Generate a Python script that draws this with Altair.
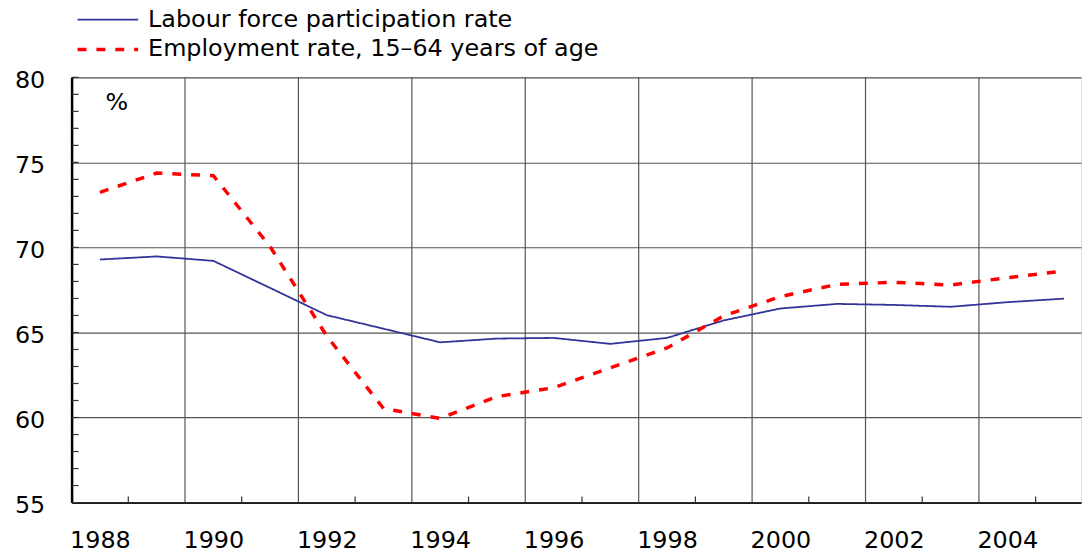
import altair as alt
import pandas as pd

years = list(range(1988, 2006))
labour = [69.29, 69.47, 69.21, 67.62, 66.02, 65.22, 64.42, 64.64, 64.68, 64.33,
          64.68, 65.71, 66.41, 66.68, 66.62, 66.51, 66.78, 66.99]
employment = [73.24, 74.37, 74.22, 70.05, 64.79, 60.53, 59.95, 61.23, 61.75, 62.92,
              64.09, 65.98, 67.11, 67.83, 67.95, 67.79, 68.22, 68.61]
series_names = ["Labour force participation rate", "Employment rate, 15\u201364 years of age"]
x_label_years = [1988, 1990, 1992, 1994, 1996, 1998, 2000, 2002, 2004]
x_grid_pos = [1989.5, 1991.5, 1993.5, 1995.5, 1997.5, 1999.5, 2001.5, 2003.5]
x_minor_pos = [1988.5, 1990.5, 1992.5, 1994.5, 1996.5, 1998.5, 2000.5, 2002.5, 2004.5]
y_major = [55, 60, 65, 70, 75, 80]
y_minor = list(range(55, 81))

FONT = "DejaVu Sans"
FS = 24
W, H = 1016, 428

df = pd.DataFrame({
    "year": years * 2,
    "value": labour + employment,
    "series": [series_names[0]] * len(years) + [series_names[1]] * len(years),
})

xscale = alt.Scale(domain=[1987.5, 2005.3], nice=False, zero=False)
yscale = alt.Scale(domain=[55, 80], nice=False, zero=False)

lines = alt.Chart(df).mark_line().encode(
    x=alt.X("year:Q", scale=xscale,
            axis=alt.Axis(values=x_label_years, format="d", grid=False, ticks=False,
                          domainColor="#000", domainWidth=1.5, labelFont=FONT,
                          labelFontSize=FS, labelColor="#000", labelPadding=26,
                          title=None, labelFlush=False)),
    y=alt.Y("value:Q", scale=yscale,
            axis=alt.Axis(values=y_major, grid=True, gridColor="#555", gridWidth=1.2,
                          ticks=False, domainColor="#000", domainWidth=2.5,
                          labelFont=FONT, labelFontSize=FS, labelColor="#000",
                          labelPadding=27, labelOffset=3, labelFlush=False,
                          title="%", titleAngle=0, titleX=45, titleY=25,
                          titleAlign="center", titleBaseline="middle",
                          titleFont=FONT, titleFontSize=FS, titleFontWeight="normal",
                          titleColor="#000")),
    color=alt.Color("series:N",
                    scale=alt.Scale(domain=series_names, range=["#333399", "#ff0000"]),
                    legend=alt.Legend(orient="none", legendX=4, legendY=-73, title=None,
                                      symbolType="stroke", symbolSize=3721,
                                      labelFont=FONT, labelFontSize=FS, labelColor="#000",
                                      labelOffset=8, padding=0, rowPadding=0,
                                      clipHeight=30, labelLimit=0, symbolStrokeWidth=2)),
    strokeDash=alt.StrokeDash("series:N",
                              scale=alt.Scale(domain=series_names, range=[[1, 0], [9, 10]]),
                              legend=None),
    strokeWidth=alt.StrokeWidth("series:N",
                                scale=alt.Scale(domain=series_names, range=[1.8, 3.5]),
                                legend=None),
)

xgrid = alt.Chart(pd.DataFrame({"x": x_grid_pos})).mark_rule(color="#555", strokeWidth=1.2).encode(
    x=alt.X("x:Q", scale=xscale), y=alt.value(0), y2=alt.value(H))

xminor = alt.Chart(pd.DataFrame({"x": x_minor_pos})).mark_rule(color="#333", strokeWidth=1.2).encode(
    x=alt.X("x:Q", scale=xscale), y=alt.value(H), y2=alt.value(H - 6))

yminor = alt.Chart(pd.DataFrame({"y": y_minor})).mark_rule(color="#333", strokeWidth=1.2).encode(
    y=alt.Y("y:Q", scale=yscale), x=alt.value(0), x2=alt.value(7))

chart = alt.layer(xgrid, xminor, yminor, lines).properties(
    width=W, height=H,
    autosize=alt.AutoSizeParams(type="none"),
    padding={"left": 64, "top": 68, "right": 2, "bottom": 52},
).configure_view(stroke=None).configure(background="white")

chart.save("out.html", embed_options={"renderer": "svg", "actions": False})
